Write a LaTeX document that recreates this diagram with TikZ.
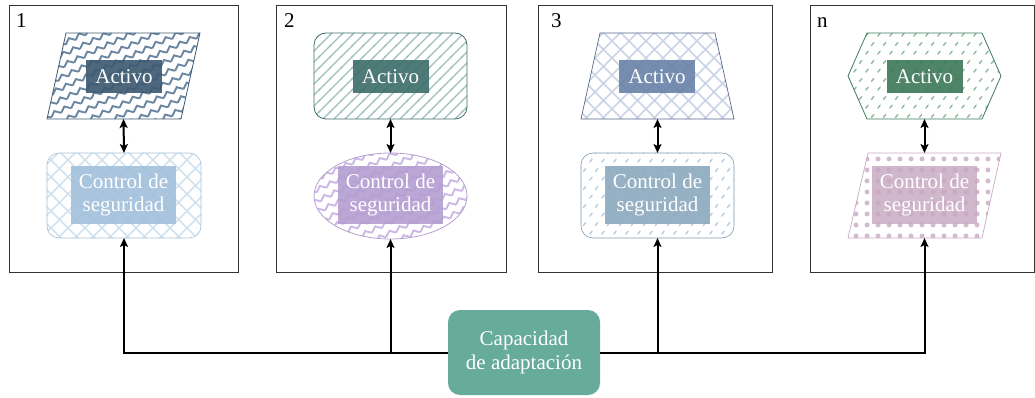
\documentclass[tikz,border=0pt]{standalone}
\usepackage{fontspec}
\setmainfont{Liberation Serif}
\usetikzlibrary{patterns,patterns.meta,arrows.meta,shapes.geometric,calc}

\pgfdeclarepatternformonly{xhatch}{\pgfqpoint{-1pt}{-1pt}}{\pgfqpoint{18pt}{18pt}}{\pgfqpoint{17pt}{17pt}}{%
  \pgfsetlinewidth{1.6pt}%
  \pgfpathmoveto{\pgfqpoint{0pt}{0pt}}\pgfpathlineto{\pgfqpoint{17pt}{17pt}}%
  \pgfpathmoveto{\pgfqpoint{0pt}{17pt}}\pgfpathlineto{\pgfqpoint{17pt}{0pt}}%
  \pgfusepath{stroke}}
\pgfdeclarepatternformonly{nelines}{\pgfqpoint{-1pt}{-1pt}}{\pgfqpoint{12pt}{12pt}}{\pgfqpoint{11pt}{11pt}}{%
  \pgfsetlinewidth{1.4pt}%
  \pgfpathmoveto{\pgfqpoint{-1pt}{-1pt}}\pgfpathlineto{\pgfqpoint{12pt}{12pt}}%
  \pgfusepath{stroke}}
\pgfdeclarepatternformonly{dashdiag}{\pgfqpoint{0pt}{0pt}}{\pgfqpoint{12pt}{18pt}}{\pgfqpoint{12pt}{18pt}}{%
  \pgfsetlinewidth{1.5pt}\pgfsetroundcap
  \pgfpathmoveto{\pgfqpoint{2pt}{2pt}}\pgfpathlineto{\pgfqpoint{4.5pt}{5pt}}%
  \pgfpathmoveto{\pgfqpoint{8pt}{11pt}}\pgfpathlineto{\pgfqpoint{10.5pt}{14pt}}%
  \pgfusepath{stroke}}
\pgfdeclarepatternformonly{bigdots}{\pgfqpoint{0pt}{0pt}}{\pgfqpoint{10.5pt}{10.5pt}}{\pgfqpoint{10.5pt}{10.5pt}}{%
  \pgfpathcircle{\pgfqpoint{5.25pt}{5.25pt}}{2.6pt}\pgfusepath{fill}}
\pgfdeclarepattern{
  name=zigzagrot, type=uncolored,
  bottom left={\pgfqpoint{-1pt}{-1pt}}, top right={\pgfqpoint{12pt}{11pt}},
  tile size={\pgfqpoint{11pt}{10pt}},
  tile transformation={\pgftransformrotate{25}},
  code={\pgfsetlinewidth{1.9pt}%
    \pgfpathmoveto{\pgfqpoint{0pt}{2.5pt}}\pgfpathlineto{\pgfqpoint{5.5pt}{7pt}}\pgfpathlineto{\pgfqpoint{11pt}{2.5pt}}%
    \pgfusepath{stroke}}
}

\definecolor{a1c}{HTML}{3E5A72}
\definecolor{a1p}{HTML}{6A86A0}
\definecolor{c1c}{HTML}{A3C1DB}
\definecolor{c1p}{HTML}{D2E1EE}
\definecolor{a2c}{HTML}{3F6F6C}
\definecolor{a2p}{HTML}{9BBFB9}
\definecolor{c2c}{HTML}{B59FD1}
\definecolor{c2p}{HTML}{CDB7E4}
\definecolor{a3c}{HTML}{6B84AA}
\definecolor{a3p}{HTML}{CBD4E6}
\definecolor{c3c}{HTML}{8EAABF}
\definecolor{c3p}{HTML}{B7CCE1}
\definecolor{a4c}{HTML}{3F7A5A}
\definecolor{a4p}{HTML}{8FB9A2}
\definecolor{c4c}{HTML}{C8AAC2}
\definecolor{c4p}{HTML}{D3BBCF}
\definecolor{capc}{HTML}{67AB9D}

\tikzset{
  panel/.style={draw=black!80, line width=0.8pt},
  shapebox/.style={minimum width=153pt, minimum height=86pt, inner sep=0pt, outer sep=0pt},
  lbl/.style={text=white, inner sep=0pt, font=\fontsize{21}{22.7}\selectfont, align=center, fill opacity=0.92, text opacity=1},
  actlbl/.style={lbl, minimum width=76pt, minimum height=33pt},
  ctllbl/.style={lbl, minimum width=105pt, minimum height=58pt},
  numlbl/.style={anchor=base west, inner sep=0pt, font=\fontsize{21}{24}\selectfont},
  tip/.tip={Stealth[length=9pt,width=8pt,inset=2pt]},
  arr/.style={line width=2pt, -tip},
  dblarr/.style={line width=2pt, tip-tip},
}

\begin{document}
\begin{tikzpicture}[x=1pt,y=-1pt]
\useasboundingbox (0,0) rectangle (1035,398);

% panels
\draw[panel] (9,5) rectangle (238,272);
\draw[panel] (276,5) rectangle (506,272);
\draw[panel] (538,5) rectangle (772,272);
\draw[panel] (810,5) rectangle (1034,272);
\node[numlbl] (n1) at (16,28) {1};
\node[numlbl] (n2) at (284,28) {2};
\node[numlbl] (n3) at (551,28) {3};
\node[numlbl] (n4) at (817,28) {n};

% panel 1
\node[shapebox] (a1) at (123.5,76) {};
\draw[draw=a1c, line width=0.8pt, pattern=zigzagrot, pattern color=a1p]
  ($(a1.north west)+(19,0)$) -- (a1.north east) -- ($(a1.south east)-(19,0)$) -- (a1.south west) -- cycle;
\node[actlbl, fill=a1c] (a1l) at (124,76.5) {Activo};
\node[shapebox, draw=c1c, line width=0.6pt, rounded corners=12pt, pattern=xhatch, pattern color=c1p, minimum width=154pt, minimum height=85pt] (c1) at (124,195.5) {};
\node[ctllbl, fill=c1c] (c1l) at (123.5,195) {Control de\\seguridad};

% panel 2
\node[shapebox, draw=a2c, line width=0.8pt, rounded corners=12pt, pattern=nelines, pattern color=a2p] (a2) at (390.5,76) {};
\node[actlbl, fill=a2c] (a2l) at (390.5,76.5) {Activo};
\node[shapebox, ellipse, draw=c2c, line width=0.8pt, pattern=zigzagrot, pattern color=c2p] (c2) at (390.5,196) {};
\node[ctllbl, fill=c2c] (c2l) at (390.5,195) {Control de\\seguridad};

% panel 3
\node[shapebox] (a3) at (657.5,76) {};
\draw[draw=a3c!80!black, line width=0.7pt, pattern=xhatch, pattern color=a3p]
  ($(a3.north west)+(19,0)$) -- ($(a3.north east)-(19,0)$) -- (a3.south east) -- (a3.south west) -- cycle;
\node[actlbl, fill=a3c] (a3l) at (657,76.5) {Activo};
\node[shapebox, draw=c3c!90!black, line width=0.6pt, rounded corners=12pt, pattern=dashdiag, pattern color=c3p, minimum height=85pt] (c3) at (657.5,195.5) {};
\node[ctllbl, fill=c3c] (c3l) at (657.5,195) {Control de\\seguridad};

% panel n
\node[shapebox] (a4) at (924.5,76) {};
\draw[draw=a4c, line width=0.8pt, pattern=dashdiag, pattern color=a4p]
  ($(a4.north west)+(19,0)$) -- ($(a4.north east)-(19,0)$) -- (a4.east) -- ($(a4.south east)-(19,0)$) -- ($(a4.south west)+(19,0)$) -- (a4.west) -- cycle;
\node[actlbl, fill=a4c] (a4l) at (924.5,76.5) {Activo};
\node[shapebox, minimum height=85pt] (c4) at (924.5,195.5) {};
\draw[draw=c4c, line width=0.7pt, pattern=bigdots, pattern color=c4p]
  ($(c4.north west)+(20,0)$) -- (c4.north east) -- ($(c4.south east)-(19,0)$) -- (c4.south west) -- cycle;
\node[ctllbl, fill=c4c, fill opacity=0.85] (c4l) at (924.5,195) {Control de\\seguridad};

% double arrows
\draw[dblarr] (a1.south) -- (c1.north);
\draw[dblarr] (a2.south) -- (c2.north);
\draw[dblarr] (a3.south) -- (c3.north);
\draw[dblarr] (a4.south) -- (c4.north);

% capacity node
\node[fill=capc, rounded corners=12pt, minimum width=152pt, minimum height=85pt, inner sep=0pt, text=white, align=center, font=\fontsize{21}{24}\selectfont] (cap) at (524,352.5) {Capacidad\\de adaptación};

\draw[arr] (cap.west) -| (c1.south);
\draw[arr] (cap.west) -| (c2.south);
\draw[arr] (cap.east) -| (c3.south);
\draw[arr] (cap.east) -| (c4.south);
\end{tikzpicture}
\end{document}
